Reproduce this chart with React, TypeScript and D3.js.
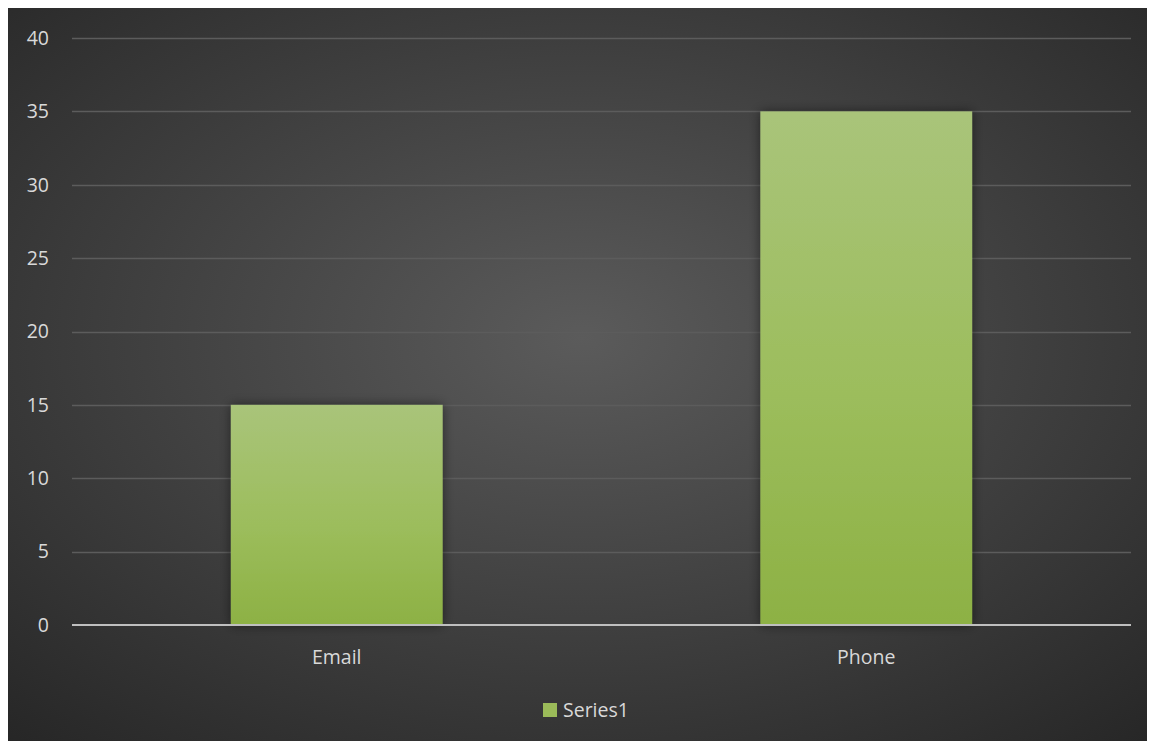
import React from "react";
import * as d3 from "d3";

const categories = ["Email", "Phone"];
const values = [15, 35];
const yTicks = [0, 5, 10, 15, 20, 25, 30, 35, 40];
const seriesName = "Series1";

const W = 1147;
const H = 733;
const margin = { left: 64, right: 24, top: 30, bottom: 115 };

export default function App() {
  const x = d3
    .scaleBand<string>()
    .domain(categories)
    .range([margin.left, W - margin.right])
    .paddingInner(0.6)
    .paddingOuter(0.3);
  const band = d3.scaleBand<string>().domain(categories).range([margin.left, W - margin.right]);
  const y = d3.scaleLinear().domain([0, 40]).range([H - margin.bottom - 1, margin.top]);
  const font = "'Open Sans', 'Liberation Sans', sans-serif";
  return (
    <svg width={W} height={H} style={{ display: "block" }}>
      <defs>
        <radialGradient id="bg" cx="50%" cy="45%" r="75%">
          <stop offset="0%" stopColor="#5b5b5b" />
          <stop offset="100%" stopColor="#262626" />
        </radialGradient>
        <linearGradient id="bar" x1="0" y1="0" x2="0" y2="1">
          <stop offset="0%" stopColor="#a9c47a" />
          <stop offset="55%" stopColor="#9cbd5c" />
          <stop offset="100%" stopColor="#8db144" />
        </linearGradient>
        <filter id="shadow" x="-20%" y="-20%" width="140%" height="140%">
          <feGaussianBlur in="SourceAlpha" stdDeviation="6" />
          <feOffset dx="0" dy="0" result="b" />
          <feComponentTransfer>
            <feFuncA type="linear" slope="0.5" />
          </feComponentTransfer>
          <feMerge>
            <feMergeNode />
            <feMergeNode in="SourceGraphic" />
          </feMerge>
        </filter>
      </defs>
      <rect x={0} y={0} width={W} height={H} fill="url(#bg)" />
      {yTicks.map((t) => (
        <g key={t}>
          {t !== 0 && (
            <line
              x1={margin.left}
              x2={W - margin.right}
              y1={Math.round(y(t)) + 0.5}
              y2={Math.round(y(t)) + 0.5}
              stroke="#5c5c5c"
              strokeWidth={1.5}
            />
          )}
          <text
            x={41}
            y={y(t)}
            dy="0.35em"
            textAnchor="end"
            fill="#d9d9d9"
            fontSize={19.5}
            fontFamily={font}
          >
            {t}
          </text>
        </g>
      ))}
      {categories.map((c, i) => (
        <rect
          key={c}
          x={x(c)}
          y={y(values[i])}
          width={x.bandwidth()}
          height={y(0) - y(values[i])}
          fill="url(#bar)"
          filter="url(#shadow)"
        />
      ))}
      <line
        x1={margin.left}
        x2={W - margin.right}
        y1={y(0)}
        y2={y(0)}
        stroke="#bfbfbf"
        strokeWidth={2}
      />
      {categories.map((c) => (
        <text
          key={c}
          x={(band(c) as number) + band.bandwidth() / 2}
          y={y(0) + 32}
          dy="0.35em"
          textAnchor="middle"
          fill="#d9d9d9"
          fontSize={19.5}
          fontFamily={font}
        >
          {c}
        </text>
      ))}
      <g>
        <rect x={535} y={695} width={14} height={14} fill="#9bbb59" />
        <text x={555} y={702} dy="0.35em" fill="#d9d9d9" fontSize={19.5} fontFamily={font}>
          {seriesName}
        </text>
      </g>
    </svg>
  );
}
